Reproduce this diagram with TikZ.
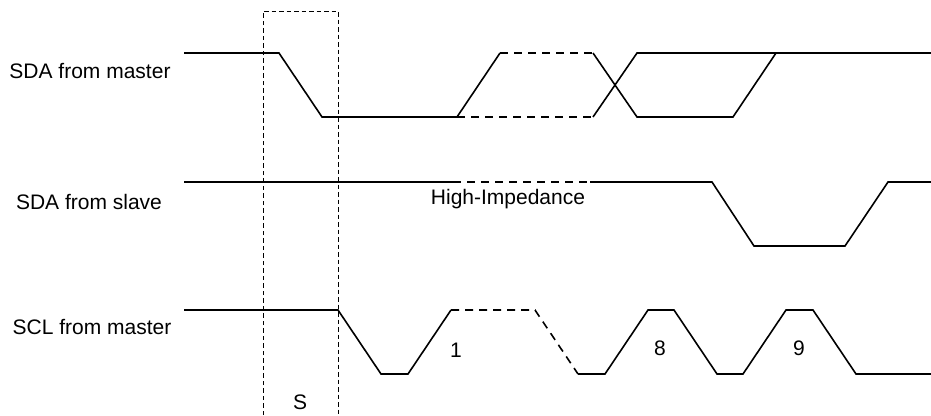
\documentclass[tikz,border=0pt]{standalone}
\usepackage{fontspec}
\setmainfont{Liberation Sans}
\usepackage{xcolor}
\usepackage{tikz}
\usetikzlibrary{positioning, calc}
\definecolor{mydark}{RGB}{0,0,0}
\tikzset{
  signal/.style={line width=1.6pt, color=mydark, line join=miter},
  hizline/.style={line width=1.6pt, color=mydark, dash pattern=on 8pt off 6pt},
  startbox/.style={line width=0.7pt, color=mydark, dash pattern=on 4.5pt off 3pt},
  siglabel/.style={font=\fontsize{21}{25}\selectfont, inner sep=0pt, anchor=center},
  bitlabel/.style={font=\fontsize{21}{25}\selectfont, inner sep=0pt}
}
\begin{document}
\begin{tikzpicture}[x=1pt, y=-1pt]
  \useasboundingbox (0,0) rectangle (931,415);

  % Signal names
  \node[siglabel] (sdam) at (90,71) {SDA from master};
  \node[siglabel] (sdas) at (89,202) {SDA from slave};
  \node[siglabel] (scl) at (92,327) {SCL from master};

  % Start condition window
  \draw[startbox] (263,415) -- (263,11) -- (338,11) -- (338,415);
  \node[bitlabel] (start) at (300,402) {S};

  % SDA from master
  \draw[signal] (184,53) -- (279,53) -- (322,117) -- (457,117) -- (500,53);
  \draw[hizline] (500,53) -- (593,53);
  \draw[hizline] (457,117) -- (593,117);
  \draw[signal] (593,53) -- (637,117) -- (733,117) -- (776,53);
  \draw[signal] (593,117) -- (637,53) -- (931,53);

  % SDA from slave
  \draw[signal] (184,182) -- (453,182);
  \draw[hizline] (453,182) -- (590,182);
  \draw[signal] (590,182) -- (712,182) -- (754,246) -- (845,246) -- (888,182) -- (931,182);
  \node[bitlabel] (hiz) at (508,199) {High-Impedance};

  % SCL from master
  \draw[signal] (184,310) -- (338,310) -- (381,374) -- (408,374) -- (451,310);
  \draw[hizline] (451,310) -- (535,310) -- (578,374);
  \draw[signal] (578,374) -- (605,374) -- (648,310) -- (674,310) -- (717,374)
    -- (743,374) -- (786,310) -- (813,310) -- (856,374) -- (931,374);

  % Clock numbers
  \node[bitlabel] (bit1) at (456,350) {1};
  \node[bitlabel] (bit8) at (660,348) {8};
  \node[bitlabel] (bit9) at (799,348) {9};
\end{tikzpicture}
\end{document}
